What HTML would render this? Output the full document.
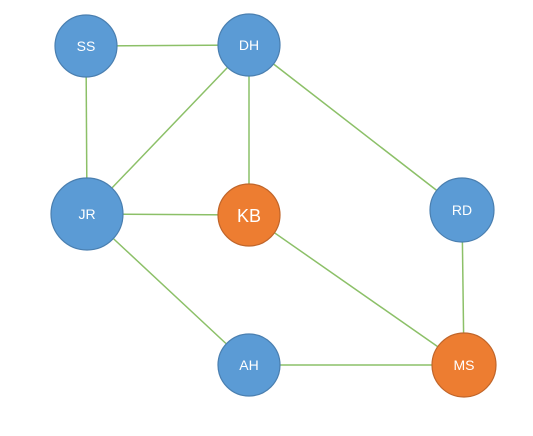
<!DOCTYPE html>
<html><head><style>html,body{margin:0;padding:0;background:#fff;}</style></head>
<body>
<svg width="533" height="436" xmlns="http://www.w3.org/2000/svg" style="display:block">
<g stroke="#8cc068" stroke-width="1.5">
<line x1="86" y1="46" x2="249" y2="45"/>
<line x1="86" y1="46" x2="87" y2="214"/>
<line x1="249" y1="45" x2="87" y2="214"/>
<line x1="249" y1="45" x2="249" y2="215"/>
<line x1="249" y1="45" x2="462" y2="210"/>
<line x1="87" y1="214" x2="249" y2="215"/>
<line x1="87" y1="214" x2="249" y2="365"/>
<line x1="249" y1="215" x2="464" y2="365"/>
<line x1="249" y1="365" x2="464" y2="365"/>
<line x1="462" y1="210" x2="464" y2="365"/>
</g>
<g stroke-width="1.2" font-family="Liberation Sans, sans-serif" text-anchor="middle" fill="#fff">
<circle cx="86" cy="46" r="31" fill="#5b9bd5" stroke="#4a7fb0"/>
<circle cx="249" cy="45" r="31" fill="#5b9bd5" stroke="#4a7fb0"/>
<circle cx="87" cy="214" r="36" fill="#5b9bd5" stroke="#4a7fb0"/>
<circle cx="249" cy="215" r="31" fill="#ed7d31" stroke="#c0652a"/>
<circle cx="462" cy="210" r="32" fill="#5b9bd5" stroke="#4a7fb0"/>
<circle cx="249" cy="365" r="31" fill="#5b9bd5" stroke="#4a7fb0"/>
<circle cx="464" cy="365" r="32" fill="#ed7d31" stroke="#c0652a"/>
</g>
<g font-family="Liberation Sans, sans-serif" text-anchor="middle" fill="#fff" font-size="14">
<text x="86" y="51">SS</text>
<text x="249" y="50">DH</text>
<text x="87" y="219">JR</text>
<text x="249" y="222" font-size="18">KB</text>
<text x="462" y="215">RD</text>
<text x="249" y="370">AH</text>
<text x="464" y="370">MS</text>
</g>
</svg>
</body></html>
